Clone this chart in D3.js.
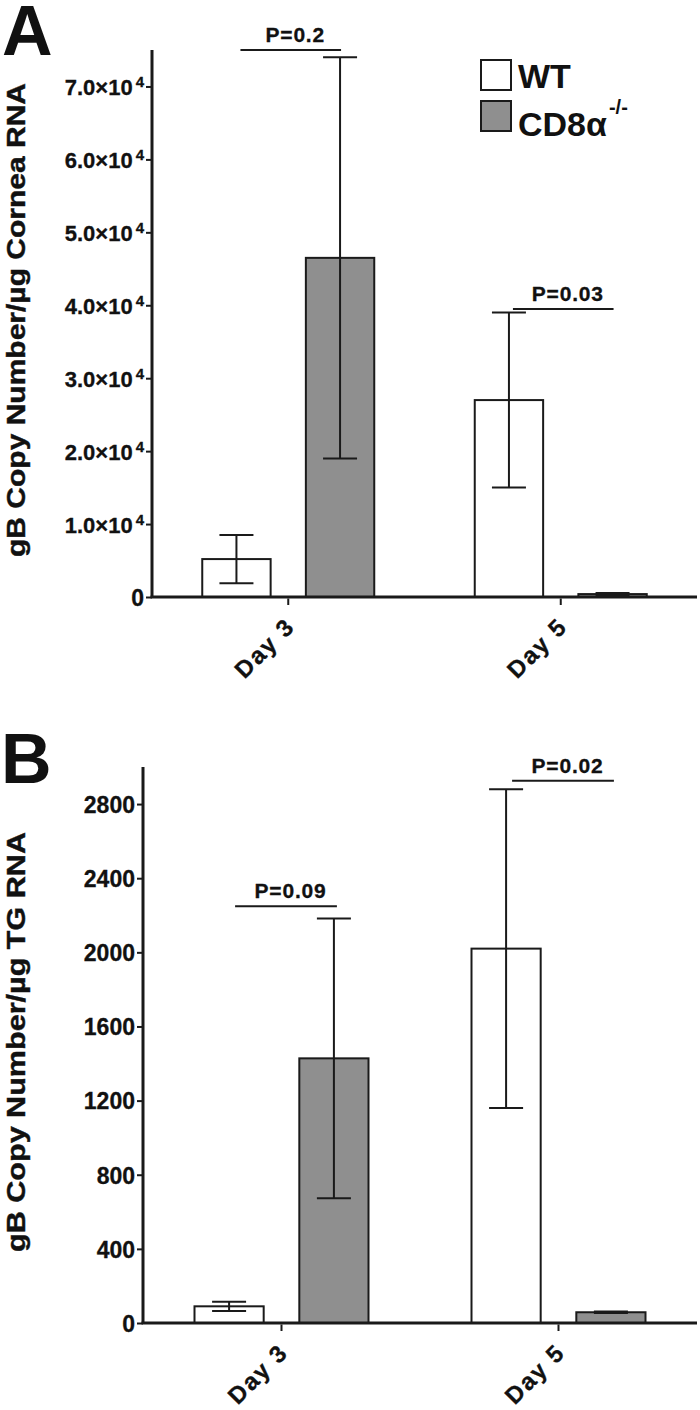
<!DOCTYPE html>
<html>
<head>
<meta charset="utf-8">
<script src="https://cdn.jsdelivr.net/npm/d3@7"></script>
<style>
  html, body { margin: 0; padding: 0; background: #fff; }
  svg text { font-family: "Liberation Sans", Arial, Helvetica, sans-serif; font-weight: bold; fill: #111; }
</style>
</head>
<body>
<svg id="chart" width="700" height="1410"></svg>
<script>
// ---------- data ----------
const days = ["Day 3", "Day 5"];
const groups = ["WT", "CD8"];
const legendLabels = ["WT", "CD8α"];

// Panel A: gB copy number / µg cornea RNA
const corneaWT = [5200, 27000];
const corneaWTErr = [3300, 12000];
const corneaCD8 = [46500, 400];
const corneaCD8Err = [27500, 150];
const corneaTicks = [0, 10000, 20000, 30000, 40000, 50000, 60000, 70000];
const corneaPLabels = ["P=0.2", "P=0.03"];
const corneaPLevel = [75000, 39500];

// Panel B: gB copy number / µg TG RNA
const tgWT = [90, 2020];
const tgWTErr = [25, 860];
const tgCD8 = [1428, 58];
const tgCD8Err = [755, 4];
const tgTicks = [0, 400, 800, 1200, 1600, 2000, 2400, 2800];
const tgPLabels = ["P=0.09", "P=0.02"];
const tgPLevel = [2248, 2926];

// ---------- drawing ----------
const svg = d3.select("#chart");
const GRAY = "#8f8f8f";
const INK = "#1a1a1a";

function panel(cfg) {
  const g = svg.append("g");
  const y = d3.scaleLinear().domain(cfg.domain).range([cfg.bottom, cfg.top]);
  const x0 = d3.scaleBand().domain(days).range([cfg.left, cfg.right]);
  const half = cfg.groupHalf;
  const x1 = d3.scaleBand().domain(groups).range([-half, half]).paddingInner(0.34);

  const rows = days.map((d, i) => ({
    day: d,
    vals: [
      { grp: "WT", v: cfg.wt[i], e: cfg.wtErr[i] },
      { grp: "CD8", v: cfg.cd8[i], e: cfg.cd8Err[i] }
    ],
    p: cfg.pLabels[i],
    pl: cfg.pLevel[i]
  }));

  // bars
  const dg = g.selectAll("g.day").data(rows).join("g")
    .attr("transform", d => `translate(${x0(d.day) + x0.bandwidth() / 2},0)`);

  dg.selectAll("rect").data(d => d.vals).join("rect")
    .attr("x", d => x1(d.grp))
    .attr("width", x1.bandwidth())
    .attr("y", d => y(d.v))
    .attr("height", d => y(0) - y(d.v))
    .attr("fill", d => d.grp === "WT" ? "#fff" : GRAY)
    .attr("stroke", INK)
    .attr("stroke-width", 2);

  // error bars
  const eb = dg.selectAll("g.err").data(d => d.vals).join("g")
    .attr("transform", d => `translate(${x1(d.grp) + x1.bandwidth() / 2},0)`);
  eb.append("line")
    .attr("y1", d => y(d.v - d.e)).attr("y2", d => y(d.v + d.e))
    .attr("stroke", INK).attr("stroke-width", 2);
  eb.append("line")
    .attr("x1", -17).attr("x2", 17)
    .attr("y1", d => y(d.v + d.e)).attr("y2", d => y(d.v + d.e))
    .attr("stroke", INK).attr("stroke-width", 2);
  eb.append("line")
    .attr("x1", -17).attr("x2", 17)
    .attr("y1", d => y(d.v - d.e)).attr("y2", d => y(d.v - d.e))
    .attr("stroke", INK).attr("stroke-width", 2);

  // p-value lines
  const c0 = x1("WT") + x1.bandwidth() / 2;
  const c1 = x1("CD8") + x1.bandwidth() / 2;
  dg.append("line")
    .attr("x1", c0 + cfg.pShift).attr("x2", c1 + cfg.pShift - 3)
    .attr("y1", d => y(d.pl)).attr("y2", d => y(d.pl))
    .attr("stroke", INK).attr("stroke-width", 2);
  dg.append("text")
    .attr("x", (c0 + c1) / 2 + cfg.pShift + 3)
    .attr("y", d => y(d.pl) - 8)
    .attr("text-anchor", "middle")
    .attr("font-size", 21)
    .attr("letter-spacing", 0.8)
    .attr("stroke", "#111").attr("stroke-width", 0.3)
    .text(d => d.p);

  // y axis
  const yAxis = d3.axisLeft(y).tickValues(cfg.ticks).tickSize(6).tickSizeOuter(0)
    .tickFormat(cfg.fmt ? () => "" : d3.format("d"));
  const ya = g.append("g").attr("transform", `translate(${cfg.left},0)`).call(yAxis);
  ya.select(".domain").attr("stroke", INK).attr("stroke-width", 3)
    .attr("d", `M0,${cfg.bottom}V${cfg.top}`);
  ya.selectAll(".tick line").attr("stroke", INK).attr("stroke-width", 2);
  ya.selectAll(".tick text").attr("font-size", 23).attr("fill", "#111")
    .attr("font-family", '"Liberation Sans", Arial, sans-serif').attr("font-weight", "bold")
    .attr("stroke", "#111").attr("stroke-width", 0.3)
    .attr("x", -8).attr("dy", "0.36em");
  if (cfg.fmt) {
    ya.selectAll(".tick text").each(function(d) {
      const t = d3.select(this);
      if (d === 0) { t.text("0"); return; }
      const m = d / 10000;
      t.append("tspan").attr("font-size", 22).text(m.toFixed(1) + "×10");
      t.append("tspan").attr("font-size", 15).attr("dx", 3).attr("dy", "-0.55em").text("4");
    });
  }

  // x axis
  const xAxis = d3.axisBottom(x0).tickSize(8).tickSizeOuter(0).tickFormat("");
  const xa = g.append("g").attr("transform", `translate(0,${cfg.bottom})`).call(xAxis);
  xa.select(".domain").attr("stroke", INK).attr("stroke-width", 3)
    .attr("d", `M${cfg.left - 1.5},0H${cfg.right}`);
  xa.selectAll(".tick line").attr("stroke", INK).attr("stroke-width", 2).attr("y1", 1.5);
  xa.selectAll(".tick").append("text")
    .attr("fill", "#111")
    .attr("font-size", 24)
    .attr("font-family", '"Liberation Sans", Arial, sans-serif').attr("font-weight", "bold")
    .attr("stroke", "#111").attr("stroke-width", 0.3)
    .attr("text-anchor", "end")
    .attr("letter-spacing", 1.8)
    .attr("transform", "translate(8,31) rotate(-45)")
    .text(d => d);

  // y label
  g.append("text")
    .attr("transform", `translate(${cfg.labelX},${cfg.labelY}) rotate(-90)`)
    .attr("text-anchor", "middle")
    .attr("font-size", 25)
    .attr("stroke", "#111").attr("stroke-width", 0.4)
    .attr("textLength", cfg.labelLen)
    .attr("lengthAdjust", "spacingAndGlyphs")
    .text(cfg.label);

  // panel letter
  g.append("text")
    .attr("x", cfg.letterX).attr("y", cfg.letterY)
    .attr("font-size", 70)
    .attr("fill", "#000")
    .text(cfg.letter);
  return g;
}

panel({
  domain: [0, 75000], top: 50, bottom: 597, left: 152, right: 697,
  groupHalf: 86, wt: corneaWT, wtErr: corneaWTErr, cd8: corneaCD8, cd8Err: corneaCD8Err,
  ticks: corneaTicks, fmt: true, pLabels: corneaPLabels, pLevel: corneaPLevel, pShift: 4,
  label: "gB Copy Number/µg Cornea RNA", labelX: 25, labelY: 320, labelLen: 474,
  letter: "A", letterX: 2, letterY: 55
});

panel({
  domain: [0, 3000], top: 767, bottom: 1323, left: 143, right: 697,
  groupHalf: 87, wt: tgWT, wtErr: tgWTErr, cd8: tgCD8, cd8Err: tgCD8Err,
  ticks: tgTicks, fmt: false, pLabels: tgPLabels, pLevel: tgPLevel, pShift: 6,
  label: "gB Copy Number/µg TG RNA", labelX: 25, labelY: 1042, labelLen: 420,
  letter: "B", letterX: 1, letterY: 783
});

// legend
const lg = svg.append("g").attr("transform", "translate(481,60)");
const li = lg.selectAll("g").data(legendLabels).join("g")
  .attr("transform", (d, i) => `translate(0,${i * 41})`);
li.append("rect").attr("width", 30).attr("height", 30)
  .attr("fill", (d, i) => i === 0 ? "#fff" : GRAY)
  .attr("stroke", INK).attr("stroke-width", 2);
const lt = li.append("text").attr("x", 37).attr("y", (d, i) => i === 0 ? 28 : 35)
  .attr("font-size", 34).attr("fill", "#000");
lt.append("tspan").text(d => d);
lt.filter((d, i) => i === 1).append("tspan")
  .attr("font-size", 20).attr("dy", -22).attr("dx", 2).text("-/-");
</script>
</body>
</html>
